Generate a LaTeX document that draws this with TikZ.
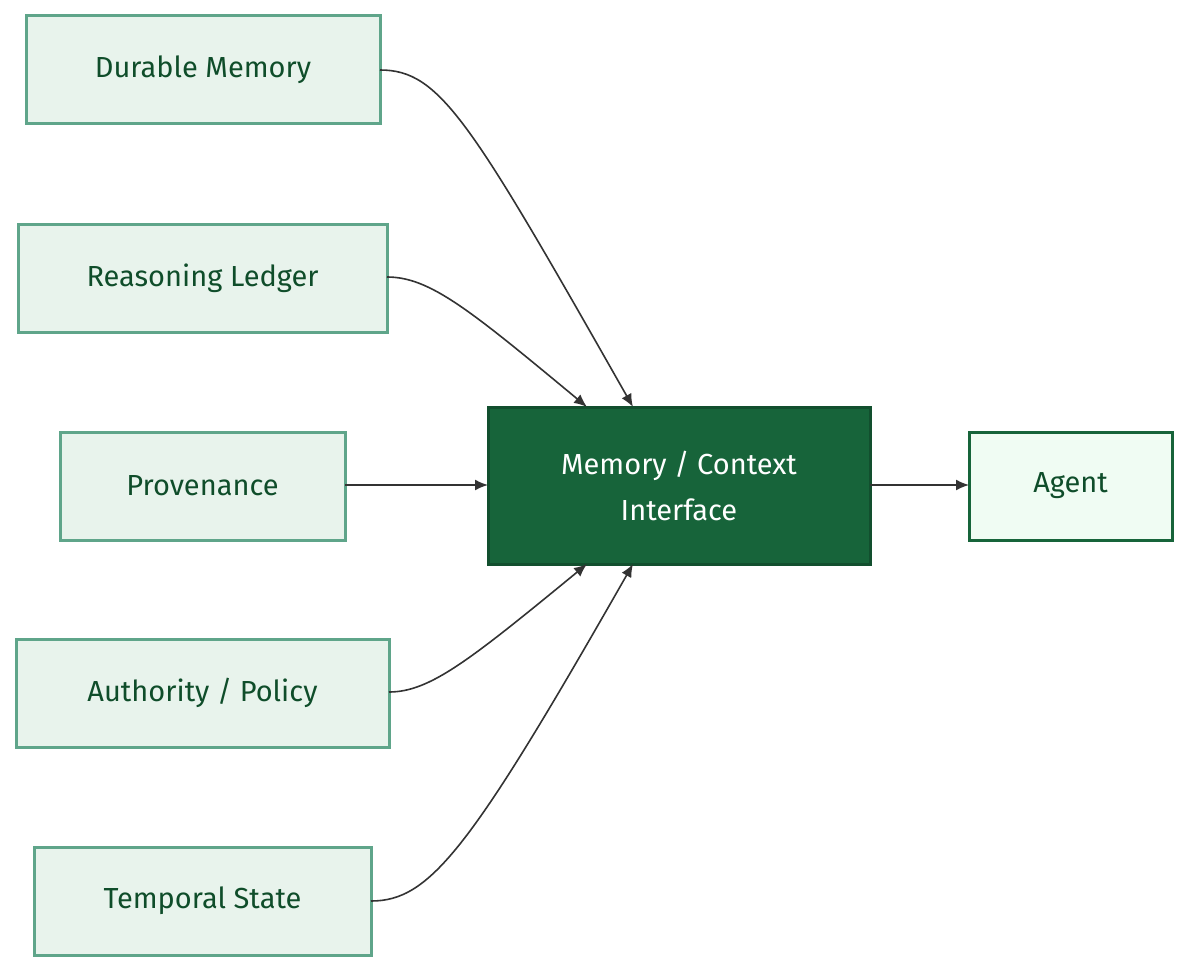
\documentclass[tikz,border=0pt]{standalone}
\usepackage{fontspec}
\setmainfont{Fira Sans}
\usetikzlibrary{arrows.meta}
\definecolor{lfill}{HTML}{E8F3EC}
\definecolor{lbord}{HTML}{5FA58A}
\definecolor{ltext}{HTML}{0F4D2A}
\definecolor{cfill}{HTML}{17643A}
\definecolor{cbord}{HTML}{124F2E}
\definecolor{afill}{HTML}{F0FCF3}
\definecolor{edge}{HTML}{333333}
\begin{document}
\begin{tikzpicture}[x=1pt,y=-1pt,
  src/.style={draw=lbord,fill=lfill,line width=3pt,text=ltext,font=\fontsize{29}{36}\selectfont},
  cen/.style={draw=cbord,fill=cfill,line width=3pt,text=white,font=\fontsize{29}{46}\selectfont,align=center},
  agt/.style={draw=cfill,fill=afill,line width=3pt,text=ltext,font=\fontsize{29}{36}\selectfont},
  conn/.style={draw=edge,line width=1.6pt,-{Latex[length=13pt,width=11pt]}}]
\useasboundingbox (0,0) rectangle (1188,971);
\path[src] (26,16) rectangle (380,124) node[midway] (dm) {Durable Memory};
\path[src] (18,224) rectangle (387,332) node[midway] (rl) {Reasoning Ledger};
\path[src] (60,432) rectangle (345,540) node[midway] (pv) {Provenance};
\path[src] (16,639) rectangle (389,747) node[midway] (ap) {Authority / Policy};
\path[src] (34,847) rectangle (371,955) node[midway] (ts) {Temporal State};
\path[cen] (488,407) rectangle (870,564) node[midway] (c) {Memory / Context\\Interface};
\path[agt] (969,432) rectangle (1172,540) node[midway] (ag) {Agent};
\coordinate (dmr) at (380,70);
\coordinate (rlr) at (387,277);
\coordinate (pvr) at (345,485);
\coordinate (apr) at (389,692);
\coordinate (tsr) at (371,901);
\coordinate (t1) at (587,407);
\coordinate (t2) at (633,407);
\coordinate (b1) at (587,564);
\coordinate (b2) at (633,564);
\coordinate (cl) at (488,485);
\coordinate (cr) at (870,485);
\coordinate (al) at (969,485);
\draw[conn] (dmr) .. controls (440,70) and (470,120) .. (t2);
\draw[conn] (rlr) .. controls (430,277) and (470,310) .. (t1);
\draw[conn] (pvr) -- (cl);
\draw[conn] (apr) .. controls (430,692) and (470,660) .. (b1);
\draw[conn] (tsr) .. controls (430,901) and (470,850) .. (b2);
\draw[conn] (cr) -- (al);
\end{tikzpicture}
\end{document}
